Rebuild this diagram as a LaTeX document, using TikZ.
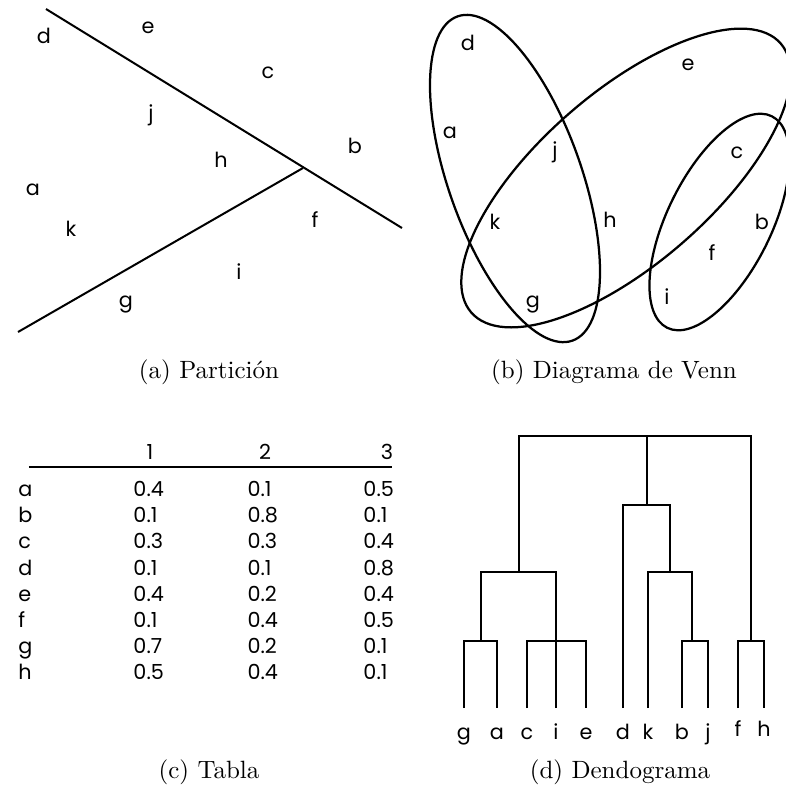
\documentclass[tikz,border=0pt]{standalone}
\usepackage{fontspec}
\newfontfamily\gothic{Poppins}
\usetikzlibrary{positioning}
\tikzset{
  every node/.append style={inner sep=0pt},
  lbl/.style={font=\gothic\fontsize{8.3}{10}\selectfont},
  subcap/.style={font=\normalfont\fontsize{10}{12}\selectfont, anchor=base},
  cut/.style={line width=0.8pt},
  set/.style={line width=0.9pt},
  link/.style={line width=0.65pt},
  rule/.style={line width=0.55pt},
}

\begin{document}
\begin{tikzpicture}[x=0.4pt,y=-0.4pt]
  \useasboundingbox (0,0) rectangle (786,796);
  % --- (a) partition ---
  \coordinate (cutA) at (46,9);
  \coordinate (cutB) at (402,228);
  \coordinate (cutJ) at (303,168);
  \coordinate (cutC) at (18,332);
  \draw[cut] (cutA) -- (cutB);
  \draw[cut] (cutJ) -- (cutC);
  \foreach \n/\x/\y in {d/44/36, e/148/28, c/268/73, j/151/115, b/355/146, h/221/160,
                        a/33/190, k/71/229, f/315/220, i/239/272, g/126/305}
    \node[lbl] (p\n) at (\x,\y) {\n};
  \node[subcap] (capa) at (209,378) {(a) Partición};
  % --- (b) venn ---
  \draw[set, shift={(515,178.5)}, rotate=-70.5] (0,0) ellipse [x radius=172, y radius=66.5];
  \draw[set, shift={(626,178)}, rotate=41] (0,0) ellipse [x radius=205, y radius=86];
  \draw[set, shift={(719.5,222)}, rotate=63.7] (0,0) ellipse [x radius=118, y radius=52];
  \foreach \n/\x/\y in {d/468/43, a/450/133, j/555/152, e/688/65, c/737/153, k/495/222,
                        h/610/220, b/762/222, f/712/253, g/533/305, i/667/297}
    \node[lbl] (v\n) at (\x,\y) {\n};
  \node[subcap] (capb) at (614,378) {(b) Diagrama de Venn};
  % --- (c) table ---
  \foreach \c/\x in {1/150, 2/265, 3/387}
    \node[lbl, anchor=base] (head\c) at (\x,459.3) {\c};
  \coordinate (ruleL) at (29,467);
  \coordinate (ruleR) at (392,467);
  \draw[rule] (ruleL) -- (ruleR);
  \foreach \r/\p/\q/\s [count=\i from 0] in {a/0.4/0.1/0.5, b/0.1/0.8/0.1, c/0.3/0.3/0.4,
      d/0.1/0.1/0.8, e/0.4/0.2/0.4, f/0.1/0.4/0.5, g/0.7/0.2/0.1, h/0.5/0.4/0.1}{
    \pgfmathsetmacro\yy{496.6+26.14*\i}
    \node[lbl, anchor=base west] (row\r) at (18,\yy) {\r};
    \node[lbl, anchor=base west] (row\r1) at (133,\yy) {\p};
    \node[lbl, anchor=base west] (row\r2) at (247,\yy) {\q};
    \node[lbl, anchor=base west] (row\r3) at (363,\yy) {\s};
  }
  \node[subcap] (capc) at (209,778) {(c) Tabla};
  % --- (d) dendrogram ---
  \foreach \n/\x/\y in {g/464/739, a/497/739, c/527/739, i/556/739, e/586/739, d/623/739,
                        k/648/739, b/682/739, j/708/739, f/738/736, h/764/736}{
    \coordinate (L\n) at (\x,708);
    \node[lbl, anchor=base] (t\n) at (\x,\y) {\n};
  }
  \coordinate (Mga) at (481,641);
  \coordinate (Mcie) at (556,641);
  \coordinate (Mbj) at (692,641);
  \coordinate (Mfh) at (751,641);
  \coordinate (Mleft) at (519,572);
  \coordinate (Mkbj) at (670,572);
  \coordinate (Mmid) at (647,505);
  \coordinate (Mtop) at (647,436);
  \draw[link] (Lg) |- (Mga) -| (La);
  \draw[link] (Lc) |- (Mcie) -| (Le);
  \draw[link] (Li) -- (Mcie);
  \draw[link] (Lb) |- (Mbj) -| (Lj);
  \draw[link] (Lf) |- (Mfh) -| (Lh);
  \draw[link] (Mga) |- (Mleft) -| (Mcie);
  \draw[link] (Lk) |- (Mkbj) -| (Mbj);
  \draw[link] (Ld) |- (Mmid) -| (Mkbj);
  \draw[link] (Mleft) |- (Mtop) -| (Mfh);
  \draw[link] (Mmid) -- (Mtop);
  \node[subcap] (capd) at (620,778) {(d) Dendograma};
\end{tikzpicture}
\end{document}
